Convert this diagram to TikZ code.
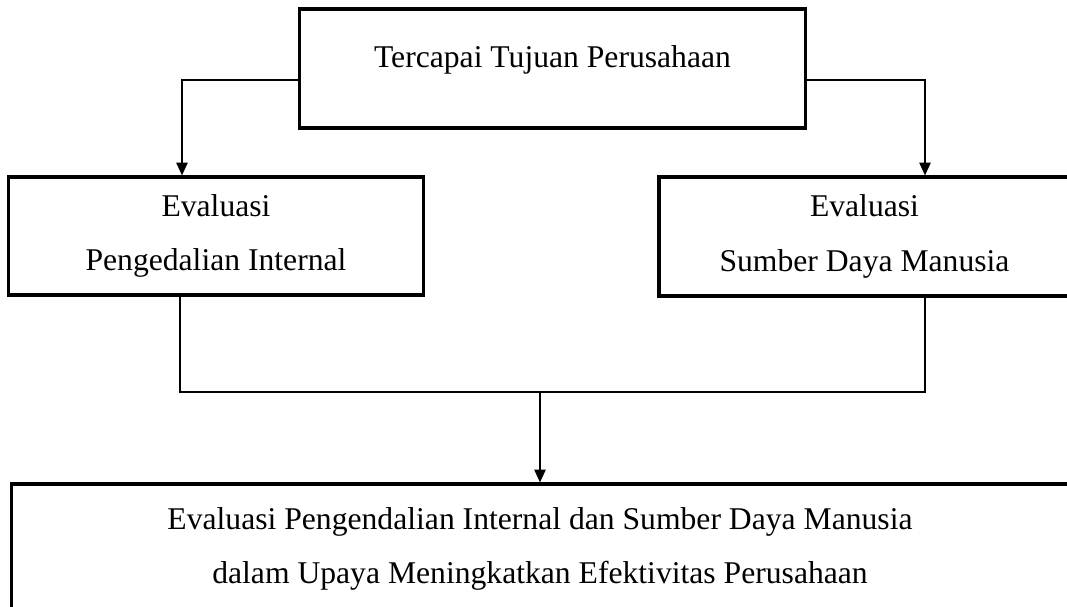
\documentclass[tikz,border=0pt]{standalone}
\usepackage{fontspec}
\setmainfont{Liberation Serif}
\usetikzlibrary{positioning, arrows.meta}

\begin{document}
\begin{tikzpicture}[x=0.025cm, y=-0.025cm]
\tikzstyle{block} = [rectangle, draw, line width=2.2pt, fill=white,
    align=center, font=\fontsize{22.5}{39}\selectfont, inner sep=0pt]
\tikzstyle{line} = [draw, line width=1.4pt, -{Triangle[length=3.2mm, width=2.8mm]}]
\tikzstyle{joint} = [draw, line width=1.4pt]

\useasboundingbox (0,0) rectangle (1067,606);
\clip (0,0) rectangle (1067,606);

\node (goal) [block, minimum width=12.625cm, minimum height=2.975cm, text depth=17pt] at (552.5,68.5)
    {Tercapai Tujuan Perusahaan};
\node (evint) [block, minimum width=10.35cm, minimum height=2.95cm] at (216,236)
    {Evaluasi\\Pengedalian Internal};
\node (evsdm) [block, minimum width=10.275cm, minimum height=2.975cm] at (864.5,236.5)
    {Evaluasi\\Sumber Daya Manusia};
\node (result) [block, minimum width=26.4cm, minimum height=3.25cm] at (540,549)
    {Evaluasi Pengendalian Internal dan Sumber Daya Manusia\\
     dalam Upaya Meningkatkan Efektivitas Perusahaan};

% turning points of the connectors
\coordinate (lturn) at (182,80);
\coordinate (rturn) at (925,80);
\coordinate (ljoin) at (180,392);
\coordinate (rjoin) at (925,392);
\coordinate (mjoin) at (540,392);

\path[line] (goal.west |- lturn) -- (lturn) -- (lturn |- evint.north);
\path[line] (goal.east |- rturn) -- (rturn) -- (rturn |- evsdm.north);
\path[joint] (ljoin |- evint.south) -- (ljoin) -- (rjoin) -- (rjoin |- evsdm.south);
\path[line] (mjoin) -- (mjoin |- result.north);
\end{tikzpicture}
\end{document}
